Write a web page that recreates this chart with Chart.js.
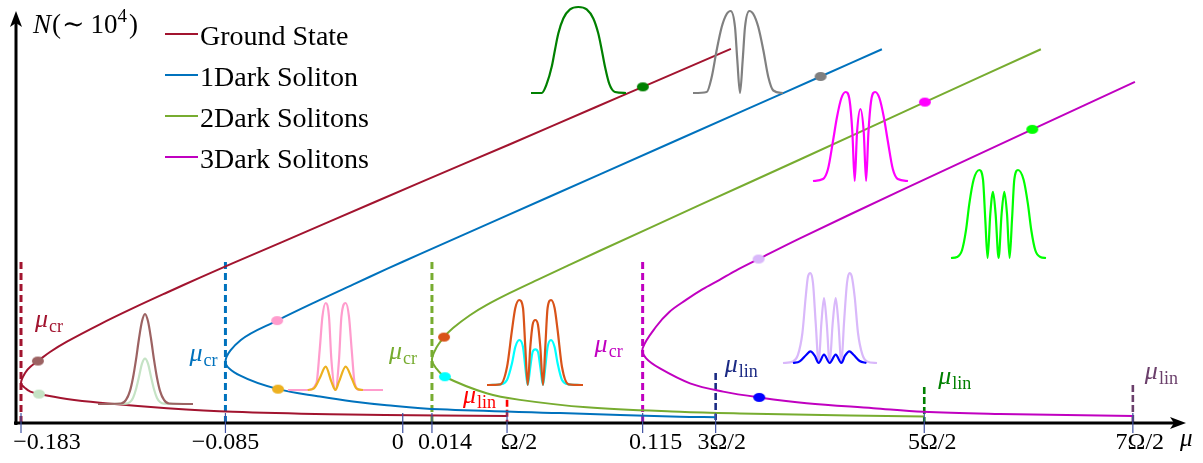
<!DOCTYPE html>
<html>
<head>
<meta charset="utf-8">
<script src="https://cdn.jsdelivr.net/npm/chart.js@4.4.1/dist/chart.umd.min.js"></script>
<style>
  html, body { margin: 0; padding: 0; background: #fff; }
  #wrap { position: relative; width: 1203px; height: 463px; overflow: hidden; }
  #wrap canvas { position: absolute; left: 0; top: 0; }
</style>
</head>
<body>
<div id="wrap"><canvas id="main" width="1203" height="463"></canvas></div>
<script>
// ---- axis ticks (Omega = 0.1) ----
const tickValues = [-0.183, -0.085, 0, 0.014, 0.05, 0.115, 0.15, 0.25, 0.35];
const tickLabels = ['\u22120.183', '\u22120.085', '0', '0.014', '\u03A9/2', '0.115', '3\u03A9/2', '5\u03A9/2', '7\u03A9/2'];
const tickLabelShift = [26, 0, -5, 13, 12, 13, 6, 8, 7];

const muCr = [-0.183, -0.085, 0.014, 0.115];
const muLin = [0.05, 0.15, 0.25, 0.35];
const seriesNames = ['Ground State', '1Dark Soliton', '2Dark Solitons', '3Dark Solitons'];

// each branch: upper end -> turning point at mu_cr -> lower end at mu_lin
const groundMu = [0.1573, 0.1151, 0.0921, 0.0514, 0.0082, -0.0349, -0.0814, -0.0972, -0.1130, -0.1293, -0.1452, -0.1610, -0.1691, -0.1749, -0.1785, -0.1808, -0.183, -0.1809, -0.1785, -0.1744, -0.1610, -0.1452, -0.1130, -0.0814, -0.0349, 0.0178, 0.05];
const groundN  = [9.06, 8.14, 7.64, 6.75, 5.82, 4.88, 3.87, 3.52, 3.16, 2.78, 2.39, 1.97, 1.72, 1.50, 1.36, 1.23, 0.97, 0.84, 0.76, 0.70, 0.58, 0.49, 0.36, 0.27, 0.21, 0.18, 0.17];

const dark1Mu = [0.2297, 0.2003, 0.1650, 0.0945, 0.0466, 0.0082, -0.0076, -0.0239, -0.0397, -0.0602, -0.0776, -0.085, -0.0776, -0.0598, -0.0397, -0.0239, -0.0076, 0.0178, 0.0754, 0.1328, 0.15];
const dark1N  = [9.05, 8.39, 7.60, 6.02, 4.95, 4.09, 3.73, 3.35, 2.98, 2.48, 2.01, 1.48, 1.14, 0.82, 0.64, 0.52, 0.43, 0.33, 0.24, 0.15, 0.14];

const dark2Mu = [0.3059, 0.2503, 0.1904, 0.1425, 0.0945, 0.0643, 0.0514, 0.0403, 0.0322, 0.0241, 0.0198, 0.0161, 0.014, 0.0161, 0.0202, 0.0402, 0.0562, 0.0882, 0.1329, 0.1616, 0.2143, 0.25];
const dark2N  = [9.05, 7.77, 6.38, 5.28, 4.17, 3.46, 3.15, 2.86, 2.61, 2.30, 2.08, 1.82, 1.53, 1.32, 1.12, 0.72, 0.56, 0.38, 0.27, 0.23, 0.18, 0.16];

const dark3Mu = [0.3510, 0.3018, 0.2384, 0.1904, 0.1706, 0.1597, 0.1517, 0.1438, 0.1358, 0.1278, 0.1214, 0.115, 0.1166, 0.1233, 0.1377, 0.1536, 0.1709, 0.1936, 0.2256, 0.2495, 0.2863, 0.35];
const dark3N  = [8.26, 7.11, 5.62, 4.47, 3.97, 3.69, 3.46, 3.24, 2.98, 2.69, 2.33, 1.81, 1.57, 1.32, 0.96, 0.76, 0.62, 0.48, 0.36, 0.27, 0.22, 0.17];

// marked states on the branches
const dotMu = [-0.1749, -0.1744, -0.0602, -0.0598, 0.0198, 0.0202, 0.1706, 0.1709, 0.1151, 0.2003, 0.2503, 0.3018];
const dotN  = [1.50, 0.70, 2.48, 0.82, 2.08, 1.12, 3.97, 0.62, 8.14, 8.39, 7.77, 7.11];
const dotColors = ['#9c6262', '#c5e3c5', '#ff9ccd', '#edb120', '#d95319', '#00ffff', '#d9b8fa', '#0000ff', '#008000', '#808080', '#ff00ff', '#00ff00'];

const curveColors = ['#a2142f', '#0072bd', '#77ac30', '#c000c0'];
const linColors = ['#ff0000', '#1b2a84', '#008000', '#6b3f6b'];
const crTop = 3.9;
const linTop = [0.56, 1.21, 0.87, 0.92];

// density profiles of the marked states, [x, height] in inset units
const profGreen = [[0,0],[10.7,0],[15.7,9],[20.7,26],[24,43],[27.3,59],[32.3,74],[39,83],[47.3,85.4],[55.7,83],[62.3,74],[67.3,59],[70.7,43],[74,26],[78.3,9],[84,1],[95,0]];
const profGray = [[0,0],[13.7,1],[18.7,16],[23.7,43],[28.7,66],[33.7,79],[37.7,82],[42,66],[44.3,33],[47,0],[49.7,33],[52,66],[56.3,82],[60.3,79],[65.3,66],[70.3,43],[75.3,16],[80.3,2.5],[90,0]];
const profMagenta = [[0,0],[10,2],[15,12],[20,40],[24,64],[28.4,83],[32.7,89],[36.7,80],[39.4,48],[41.7,0],[44,48],[47.4,72],[50.8,48],[53.1,0],[55.4,48],[58.1,80],[62.1,89],[66.4,83],[70.8,64],[74.8,40],[79.8,12],[84.8,2],[95,0]];
const profLime = [[0,0],[6,1],[11,7.7],[15,27.7],[18.3,54],[22.6,78],[28.3,87.7],[32,78],[34.3,38],[36.6,0],[39.3,44],[42,66],[44.6,44],[47.6,0],[50.6,44],[53.3,66],[56,44],[58.6,0],[61,38],[63.3,78],[67,87.7],[72.6,78],[76.9,54],[80.3,27.7],[84.3,7.7],[89.3,1],[95,0]];
const profBrown = [[0,0],[23,0.5],[28,4],[32,13],[35,26],[38,44],[41,65],[44,82],[47,89.3],[50,82],[53,65],[56,44],[59,26],[62,13],[66,4],[71,0.5],[95,0]];
const profPaleGreen = [[0,0],[28,0.3],[32,2],[35,6],[38,14.6],[41,27],[44,40],[47,45],[50,40],[53,27],[56,14.6],[59,6],[62,2],[66,0.3],[95,0]];
const profPink = [[0,0],[20,0],[28.4,6.7],[31.7,40],[34.4,73],[37.7,86.7],[41,73],[43.4,30],[47.4,0],[51,30],[53.4,73],[57.7,86.7],[61,73],[63.7,40],[66.7,6.7],[71.7,0],[95,0]];
const profOrange = [[19.7,0],[26,1.7],[31.7,11.7],[37.7,23.3],[43.4,8.3],[47.4,0],[51,8.3],[57.7,23.3],[63.7,11.7],[68.4,1.7],[75,0]];
const profRed = [[0,0],[13.3,0.7],[20,18],[25,55],[28.3,77],[32.3,85],[36,77],[38.3,38],[40.7,0],[43.3,38],[45.6,60],[48.3,65],[51,60],[53.3,38],[56,0],[58.3,38],[60.6,77],[64,85],[67.6,77],[70.6,55],[75,18],[81.6,0.7],[96,0]];
const profCyan = [[3,0],[13.3,0.7],[20,5],[25,21.7],[28.3,38],[32.3,45],[36,38],[38.3,18],[40.7,0],[43.3,18],[45.6,33],[48.3,35.7],[51,33],[53.3,18],[56,0],[58.3,18],[60.6,38],[64,45],[67.6,38],[70.6,21.7],[75,5],[81.6,0.7],[93,0]];
const profLavender = [[0,0],[10,1.6],[15,8.3],[19.4,30],[22.7,66],[25,86.6],[27.4,90],[30,80],[32.7,40],[35.7,0],[38.4,40],[41,65],[43.7,40],[46.7,0],[49.7,40],[52.7,65],[55.4,40],[58.4,0],[61,40],[64,80],[66.4,90],[68.8,86.6],[71.7,66],[75,30],[79.4,8.3],[84,1.6],[94,0]];
const profBlue = [[10,0],[16.7,1.6],[23.4,8.3],[27.4,11.6],[31.7,7.3],[35.7,0],[41,8.3],[46.7,0],[52.7,8.3],[58.4,0],[62,7.3],[66.4,11.6],[70.5,8.3],[76.7,2],[83.4,0]];

const toXY = (xs, ys) => xs.map((v, i) => ({ x: v, y: ys[i] }));

function ellipseDot(color) {
  const c = document.createElement('canvas');
  c.width = 14; c.height = 11;
  const g = c.getContext('2d');
  g.fillStyle = color;
  g.beginPath();
  g.ellipse(7, 5.5, 6, 4.5, 0, 0, Math.PI * 2);
  g.fill();
  return c;
}

function curve(label, xs, ys, color) {
  return { label, data: toXY(xs, ys), borderColor: color, borderWidth: 2, pointRadius: 0, tension: 0.35, fill: false, isCurve: true };
}

function vline(mu, top, color, width, dash) {
  return { data: [{ x: mu, y: top }, { x: mu, y: 0 }], borderColor: color, borderWidth: width, borderDash: dash, pointRadius: 0, tension: 0, fill: false };
}

const datasets = [
  { data: toXY(dotMu, dotN), showLine: false, pointStyle: dotColors.map(ellipseDot), pointRadius: 5 },
  curve(seriesNames[0], groundMu, groundN, curveColors[0]),
  curve(seriesNames[1], dark1Mu, dark1N, curveColors[1]),
  curve(seriesNames[2], dark2Mu, dark2N, curveColors[2]),
  curve(seriesNames[3], dark3Mu, dark3N, curveColors[3]),
  ...muCr.map((m, i) => vline(m, crTop, curveColors[i], 3, [7, 4])),
  ...muLin.map((m, i) => vline(m, linTop[i], linColors[i], 2.6, [7, 3]))
];

// mu labels: anchor value, pixel offset from the dashed line, baseline level (N units)
const muLabels = [
  { sub: 'cr', mu: muCr[0], n: 2.32, dx: 14, align: 'left', color: curveColors[0] },
  { sub: 'cr', mu: muCr[1], n: 1.50, dx: -8, align: 'right', color: curveColors[1] },
  { sub: 'cr', mu: muCr[2], n: 1.55, dx: -15, align: 'right', color: curveColors[2] },
  { sub: 'cr', mu: muCr[3], n: 1.72, dx: -20, align: 'right', color: curveColors[3] },
  { sub: 'lin', mu: muLin[0], n: 0.48, dx: -11, align: 'right', color: linColors[0] },
  { sub: 'lin', mu: muLin[1], n: 1.23, dx: 9, align: 'left', color: linColors[1] },
  { sub: 'lin', mu: muLin[2], n: 0.94, dx: 14, align: 'left', color: linColors[2] },
  { sub: 'lin', mu: muLin[3], n: 1.07, dx: 12, align: 'left', color: linColors[3] }
];

const SERIF = '"Liberation Serif", "DejaVu Serif", serif';

function drawMu(ctx, sub, x, y, color, align) {
  ctx.fillStyle = color;
  ctx.textAlign = 'left';
  ctx.textBaseline = 'alphabetic';
  ctx.font = 'italic 26px ' + SERIF;
  const w1 = ctx.measureText('\u03BC').width;
  ctx.font = '18px ' + SERIF;
  const w2 = ctx.measureText(sub).width;
  const left = align === 'right' ? x - w1 - w2 - 1 : x;
  ctx.font = 'italic 26px ' + SERIF;
  ctx.fillText('\u03BC', left, y);
  ctx.font = '18px ' + SERIF;
  ctx.fillText(sub, left + w1 + 1, y + 5);
}

const decorations = {
  id: 'decorations',
  afterDraw(chart) {
    const { ctx, chartArea, scales: { x, y } } = chart;
    const ax = chartArea.left;
    const ay = y.getPixelForValue(0);
    ctx.save();
    // axes with arrow heads
    ctx.strokeStyle = '#000';
    ctx.fillStyle = '#000';
    ctx.lineWidth = 3;
    ctx.beginPath();
    ctx.moveTo(ax - 2, ay);
    ctx.lineTo(chartArea.right - 2, ay);
    ctx.moveTo(ax, ay + 2);
    ctx.lineTo(ax, chartArea.top + 12);
    ctx.stroke();
    const tipX = chartArea.right + 6;
    ctx.beginPath();
    ctx.moveTo(tipX, ay);
    ctx.lineTo(tipX - 16, ay - 6);
    ctx.lineTo(tipX - 12, ay);
    ctx.lineTo(tipX - 16, ay + 6);
    ctx.closePath();
    ctx.fill();
    const tipY = chartArea.top + 1;
    ctx.beginPath();
    ctx.moveTo(ax, tipY);
    ctx.lineTo(ax - 6, tipY + 16);
    ctx.lineTo(ax, tipY + 12);
    ctx.lineTo(ax + 6, tipY + 16);
    ctx.closePath();
    ctx.fill();

    // tick marks and labels
    ctx.strokeStyle = '#3f51a3';
    ctx.lineWidth = 1.2;
    ctx.font = '24px ' + SERIF;
    ctx.textBaseline = 'alphabetic';
    ctx.textAlign = 'center';
    tickValues.forEach((v, i) => {
      const px = x.getPixelForValue(v);
      ctx.beginPath();
      ctx.moveTo(px, ay - 10);
      ctx.lineTo(px, ay + 10);
      ctx.stroke();
      ctx.fillStyle = '#000';
      ctx.fillText(tickLabels[i], px + tickLabelShift[i], 449);
    });

    // axis titles
    ctx.textAlign = 'left';
    ctx.fillStyle = '#000';
    ctx.font = 'italic 25px ' + SERIF;
    ctx.fillText('\u03BC', chartArea.right, 446);
    let tx = 33;
    const ty = 33;
    ctx.font = 'italic 27px ' + SERIF;
    ctx.fillText('N', tx, ty);
    tx += ctx.measureText('N').width + 1;
    ctx.font = '27px ' + SERIF;
    ctx.fillText('(', tx, ty);
    tx += ctx.measureText('(').width + 1;
    ctx.fillText('\u223C', tx, ty);
    tx += ctx.measureText('\u223C').width + 6;
    ctx.fillText('10', tx, ty);
    tx += ctx.measureText('10').width;
    ctx.font = '19px ' + SERIF;
    ctx.fillText('4', tx, ty - 11);
    tx += ctx.measureText('4').width + 2;
    ctx.font = '27px ' + SERIF;
    ctx.fillText(')', tx, ty);

    // mu_cr / mu_lin labels
    muLabels.forEach(l => {
      drawMu(ctx, l.sub, x.getPixelForValue(l.mu) + l.dx, y.getPixelForValue(l.n), l.color, l.align);
    });

    // legend
    const curves = chart.data.datasets.filter(d => d.isCurve);
    ctx.font = '28px ' + SERIF;
    curves.forEach((d, i) => {
      const ry = 34 + i * 41;
      ctx.strokeStyle = d.borderColor;
      ctx.lineWidth = 2;
      ctx.beginPath();
      ctx.moveTo(165, ry);
      ctx.lineTo(198, ry);
      ctx.stroke();
      ctx.fillStyle = '#000';
      ctx.fillText(d.label, 200, ry + 11);
    });
    ctx.restore();
  }
};

new Chart(document.getElementById('main'), {
  type: 'line',
  data: { datasets },
  options: {
    responsive: false,
    devicePixelRatio: 1,
    animation: false,
    events: [],
    layout: { padding: { left: 16, right: 23, top: 10, bottom: 40 } },
    plugins: { legend: { display: false }, tooltip: { enabled: false } },
    scales: {
      x: { type: 'linear', display: false, min: -0.1854, max: 0.3726 },
      y: { type: 'linear', display: false, min: 0, max: 10 }
    }
  },
  plugins: [decorations]
});

// inset boxes (page pixels) for the density profiles
const insets = [
  { left: 531, baseline: 92.7, width: 95, height: 85.4, lines: [[profGreen, '#008000']] },
  { left: 693, baseline: 92.7, width: 92, height: 82, lines: [[profGray, '#808080']] },
  { left: 813.3, baseline: 180.7, width: 95, height: 89, lines: [[profMagenta, '#ff00ff']] },
  { left: 950.7, baseline: 257.7, width: 95, height: 87.7, lines: [[profLime, '#00ff00']] },
  { left: 98, baseline: 403.3, width: 95, height: 89.3, lines: [[profBrown, '#9c6262'], [profPaleGreen, '#c5e3c5']] },
  { left: 288.3, baseline: 390, width: 95, height: 86.7, lines: [[profOrange, '#edb120'], [profPink, '#ff9ccd']] },
  { left: 486.7, baseline: 385, width: 96, height: 85, lines: [[profRed, '#d95319'], [profCyan, '#00ffff']] },
  { left: 783.3, baseline: 363.3, width: 94, height: 90, lines: [[profBlue, '#0000ff'], [profLavender, '#d9b8fa']] }
];

const wrap = document.getElementById('wrap');
insets.forEach(box => {
  const pad = 3;
  const c = document.createElement('canvas');
  c.width = Math.ceil(box.width + 2 * pad);
  c.height = Math.ceil(box.height + 2 * pad);
  c.style.left = (box.left - pad) + 'px';
  c.style.top = (box.baseline - box.height - pad) + 'px';
  wrap.appendChild(c);
  new Chart(c, {
    type: 'line',
    data: {
      datasets: box.lines.map(([pts, color]) => ({
        data: pts.map(([px, py]) => ({ x: px, y: py })),
        borderColor: color, borderWidth: 2.2, pointRadius: 0,
        cubicInterpolationMode: 'monotone', clip: false, fill: false
      }))
    },
    options: {
      responsive: false,
      devicePixelRatio: 1,
      animation: false,
      events: [],
      layout: { padding: pad },
      plugins: { legend: { display: false }, tooltip: { enabled: false } },
      scales: {
        x: { type: 'linear', display: false, min: 0, max: box.width },
        y: { type: 'linear', display: false, min: 0, max: box.height }
      }
    }
  });
});
</script>
</body>
</html>
